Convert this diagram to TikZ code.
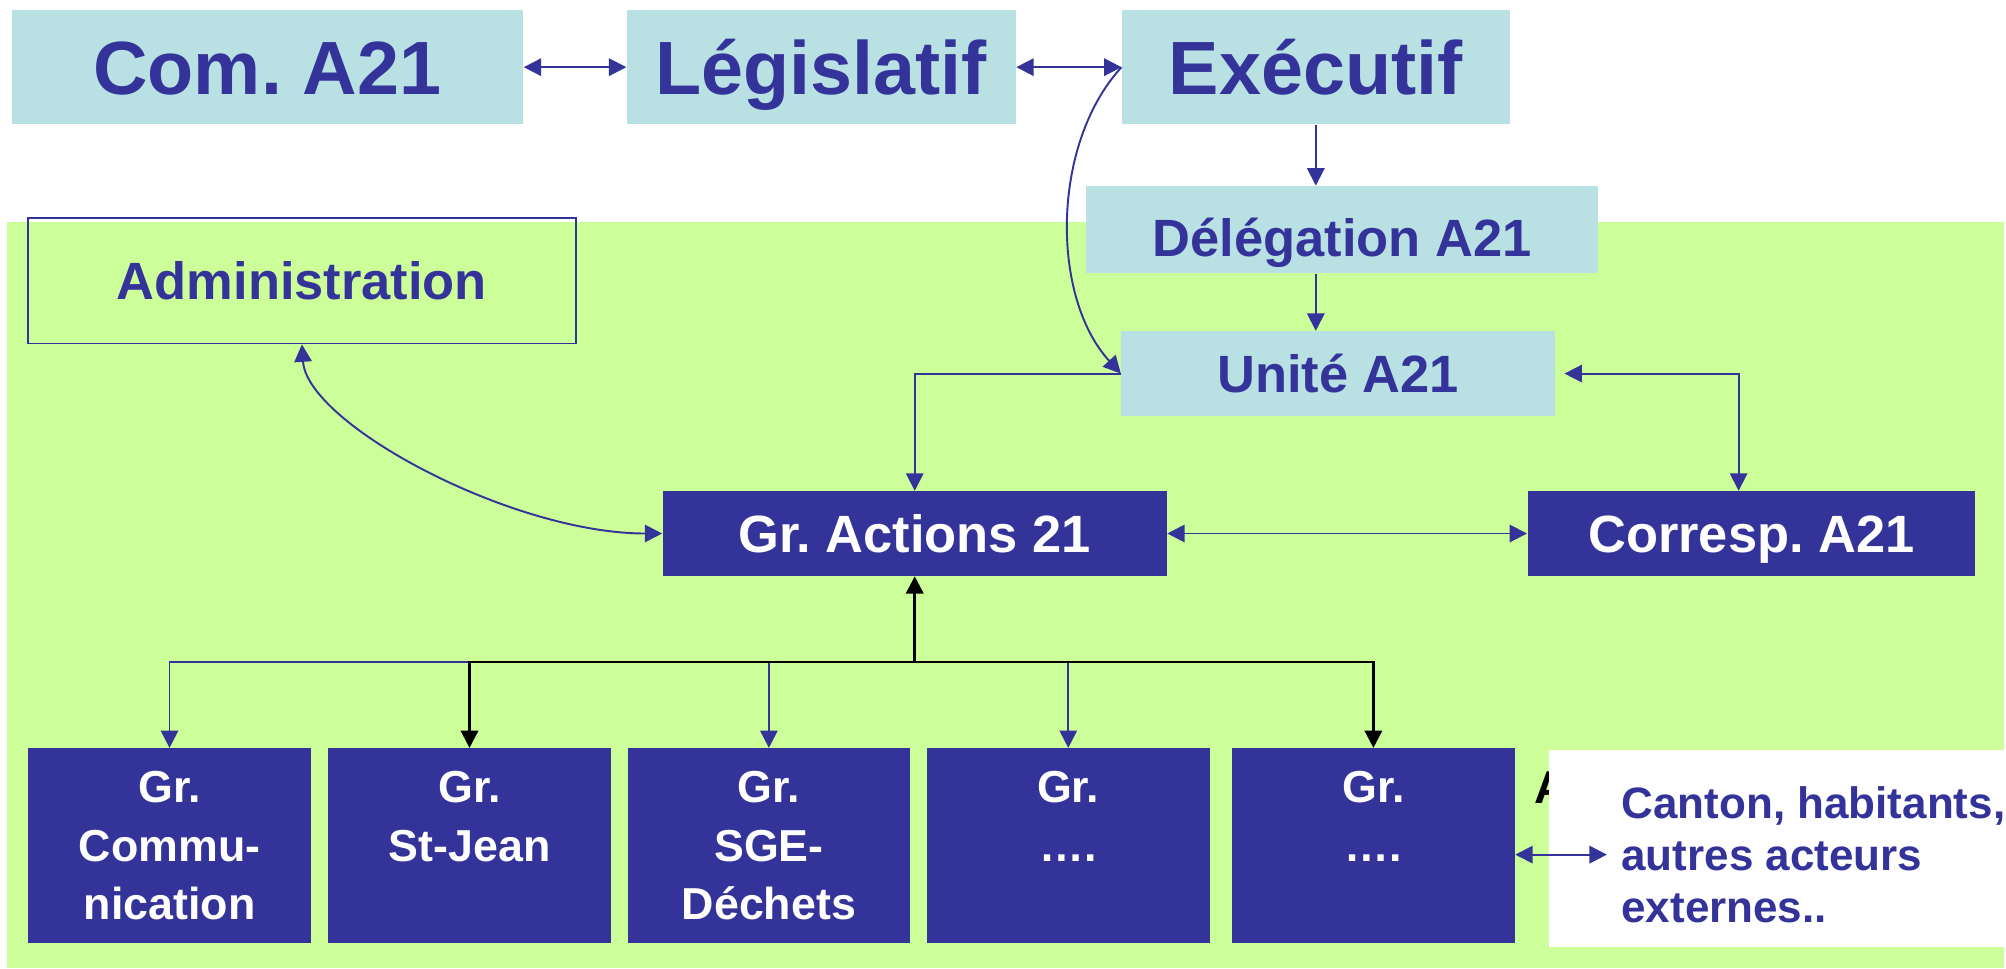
\documentclass[tikz,border=0pt]{standalone}
\usepackage{fontspec}
\setmainfont{Liberation Sans}
\frenchspacing
\usetikzlibrary{arrows.meta}
\definecolor{navy}{RGB}{51,51,153}
\definecolor{paleblue}{RGB}{185,224,227}
\definecolor{lime}{RGB}{204,255,153}

\begin{document}
\begin{tikzpicture}[x=0.5pt, y=-0.5pt,
  >={Triangle[length=6.8pt,width=6.8pt]},
  line/.style={draw=navy, line width=0.75pt},
  blackline/.style={draw=black, line width=1pt},
  bigfont/.style={font=\fontsize{29.5}{35}\selectfont\bfseries, text height=21pt, text depth=0pt},
  midfont/.style={font=\fontsize{20.5}{24}\selectfont\bfseries, text height=14.7pt, text depth=0pt},
  blueblock/.style={fill=paleblue, text=navy, inner sep=0pt},
  navyblock/.style={fill=navy, text=white, inner sep=0pt},
  grbox/.style={navyblock, minimum width=110.5pt, minimum height=76pt, align=center,
    font=\fontsize{17.5}{22.9}\selectfont\bfseries}]
% Background
\useasboundingbox (0,0) rectangle (1568,757.4);
\fill [lime] (5.5,173.5) rectangle (1566.5,756.7);
% Top row
\node [blueblock, bigfont, minimum width=200pt, minimum height=44.5pt] (com) at (209,52.5) {Com. A21};
\node [blueblock, bigfont, minimum width=152pt, minimum height=44.5pt] (leg) at (642,52.5) {Législatif};
\node [blueblock, bigfont, minimum width=151.5pt, minimum height=44.5pt] (exe) at (1028.5,52.5) {Exécutif};
% Middle
\node [blueblock, midfont, text height=21pt, minimum width=200pt, minimum height=34pt] (del) at (1049,179.5) {Délégation A21};
\node [blueblock, midfont, minimum width=169.5pt, minimum height=33pt] (uni) at (1046,292) {Unité A21};
\node [draw=navy, line width=0.7pt, text=navy, midfont, inner sep=0pt, minimum width=214pt, minimum height=49pt] (adm) at (236,219.5) {Administration};
\node [navyblock, midfont, minimum width=197pt, minimum height=33pt] (act) at (715,417) {Gr. Actions 21};
\node [navyblock, midfont, minimum width=175pt, minimum height=33pt] (cor) at (1369,417) {Corresp. A21};
% Groups
\node [grbox] (g1) at (132.5,661) {Gr.\\Commu-\\nication};
\node [grbox] (g2) at (367,661) {Gr.\\St-Jean\\~};
\node [grbox] (g3) at (601,661) {Gr.\\SGE-\\Déchets};
\node [grbox] (g4) at (835,661) {Gr.\\….\\~};
\node [grbox] (g5) at (1073.5,661) {Gr.\\….\\~};
% Outside
\node [anchor=base west, inner sep=0pt, font=\fontsize{18}{21}\selectfont\bfseries] (hid) at (1199,628) {A};
\node [fill=white, inner sep=0pt, minimum width=177.75pt, minimum height=77pt] (ext) at (1388.75,663) {};
\node [anchor=west, align=left, text=navy, inner sep=0pt, font=\fontsize{17.2}{20.2}\selectfont\bfseries] (exttxt) at (1267,668) {Canton, habitants,\\autres acteurs\\externes..};
% Arrows
\draw [line, <->] (com) -- (leg);
\draw [line, <->] (leg) -- (exe);
\draw [line, ->] (exe.south) -- (exe.south |- del.north);
\draw [line, ->] (exe.south |- del.south) -- (exe.south |- uni.north);
\draw [line, ->] (exe.west) .. controls +(-55,60) and +(-55,-60) .. (uni.west);
\draw [line, ->] (uni.west) -| (act.north);
\draw [line, <->, shorten <=3.5pt] (uni.east) -| ([xshift=-5pt]cor.north);
\draw [line, <->] (act) -- (cor);
\draw [line, <->] (adm.south) .. controls +(4,62) and +(-118,0) .. (act.west);
\draw [line, <->, shorten >=5.5pt] (g5.east |- exttxt.west) -- (exttxt.west);
% Tree
\coordinate (bus) at (act.south |- 0,517.5);
\foreach \g in {g1,g3,g4}
  \draw [line, ->] (bus) -| (\g.north);
\foreach \g in {g2,g5}
  \draw [blackline, ->] (bus) -| (\g.north);
\draw [blackline, ->] (bus) -- (act.south);
\end{tikzpicture}
\end{document}
